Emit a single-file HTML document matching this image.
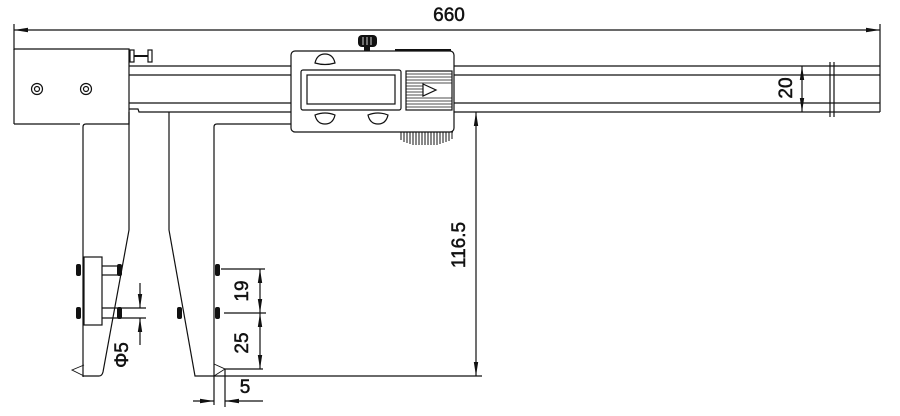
<!DOCTYPE html>
<html><head><meta charset="utf-8"><style>
html,body{margin:0;padding:0;background:#fff}
svg{display:block}
text{font-family:"Liberation Sans",Arial,sans-serif;fill:#111;stroke:#111;stroke-width:0.5}
</style></head><body>
<svg width="900" height="416" viewBox="0 0 900 416" xmlns="http://www.w3.org/2000/svg">
<defs>
<marker id="a" viewBox="0 0 14 6" refX="14" refY="3" markerWidth="14" markerHeight="6" orient="auto" markerUnits="userSpaceOnUse"><path d="M0,0.8 L14,3 L0,5.2 Z" fill="#111"/></marker>
</defs>
<g stroke="#111" stroke-width="1.2" fill="none">
<line x1="14" y1="24" x2="14" y2="50"/>
<line x1="880" y1="24" x2="880" y2="112"/>
<line x1="40" y1="30" x2="14" y2="30" marker-end="url(#a)"/>
<line x1="40" y1="30" x2="880" y2="30" marker-end="url(#a)"/>
<path d="M14,49 H129 V124 H86 Q83,124 83,127 V377"/>
<line x1="14" y1="49" x2="14" y2="124"/>
<line x1="14" y1="124" x2="80" y2="124"/>
<circle cx="37" cy="89" r="5.5"/><circle cx="37" cy="89" r="2.5"/>
<circle cx="86" cy="89" r="5.5"/><circle cx="86" cy="89" r="2.5"/>
<rect x="130" y="50" width="4" height="12"/><rect x="148" y="50" width="4" height="12"/>
<line x1="134" y1="56" x2="148" y2="56" stroke-width="2"/>
<line x1="129" y1="66" x2="880" y2="66"/>
<line x1="129" y1="75" x2="880" y2="75"/>
<line x1="129" y1="103" x2="880" y2="103"/>
<path d="M129,109 H138 L139,112 H880"/>
<line x1="830" y1="62" x2="830" y2="117"/><line x1="834" y1="62" x2="834" y2="117"/>
<path d="M129,112 V230 L103,372 Q102,376 99,376 H83"/>
<path d="M84,365 L72,370 L84,376" stroke-width="0.9"/>
<rect x="84" y="257" width="18" height="68"/>
<line x1="102" y1="266" x2="118" y2="266"/><line x1="102" y1="275" x2="118" y2="275"/>
<line x1="102" y1="308" x2="146" y2="308"/><line x1="102" y1="318" x2="146" y2="318"/>
<line x1="140" y1="283" x2="140" y2="308" marker-end="url(#a)"/>
<line x1="140" y1="345" x2="140" y2="318" marker-end="url(#a)"/>
<path d="M169,112 V230 L195,376 H482"/>
<path d="M214,405 V127 Q214,124 217,124 H292"/>
<path d="M214,364 L225,369 L214,376" stroke-width="0.9"/>
<line x1="225" y1="369" x2="225" y2="407"/>
<line x1="225" y1="369" x2="263" y2="369"/>
<line x1="221" y1="269" x2="265" y2="269"/>
<line x1="224" y1="313" x2="266" y2="313"/>
<line x1="260" y1="291" x2="260" y2="269" marker-end="url(#a)"/>
<line x1="260" y1="291" x2="260" y2="313" marker-end="url(#a)"/>
<line x1="260" y1="340" x2="260" y2="313" marker-end="url(#a)"/>
<line x1="260" y1="340" x2="260" y2="369" marker-end="url(#a)"/>
<line x1="193" y1="401" x2="214" y2="401" marker-end="url(#a)"/>
<line x1="263" y1="401" x2="225" y2="401" marker-end="url(#a)"/>
<line x1="476" y1="200" x2="476" y2="112" marker-end="url(#a)"/>
<line x1="476" y1="200" x2="476" y2="376" marker-end="url(#a)"/>
<line x1="802" y1="88" x2="802" y2="66" marker-end="url(#a)"/>
<line x1="802" y1="88" x2="802" y2="112" marker-end="url(#a)"/>
<rect x="291" y="51" width="163" height="81" rx="4" fill="#fff"/>
<rect x="301" y="70" width="100" height="40" rx="2"/>
<rect x="307" y="75" width="88" height="29"/>
<rect x="406" y="71" width="46" height="39"/>
<path d="M315,63 Q317,54 325,54 Q333,54 335,63 Q325,66 315,63 Z"/>
<path d="M315,115 Q325,111 335,115 Q333,124 325,124 Q317,124 315,115 Z"/>
<path d="M368,115 Q378,111 388,115 Q386,124 378,124 Q370,124 368,115 Z"/>
<path d="M423,84 L436,90 L423,96 Z" fill="#fff"/>
</g>
<g stroke="#111" stroke-width="0.8">
<line x1="406" y1="74" x2="452" y2="74"/><line x1="406" y1="77" x2="452" y2="77"/>
<line x1="406" y1="80" x2="452" y2="80"/><line x1="406" y1="83" x2="452" y2="83"/>
<line x1="406" y1="86" x2="423" y2="86"/><line x1="406" y1="89" x2="423" y2="89"/>
<line x1="406" y1="92" x2="423" y2="92"/><line x1="406" y1="95" x2="423" y2="95"/>
<line x1="406" y1="98" x2="452" y2="98"/><line x1="406" y1="101" x2="452" y2="101"/>
<line x1="406" y1="104" x2="452" y2="104"/><line x1="406" y1="107" x2="452" y2="107"/>
</g>
<g fill="#111">
<rect x="358" y="35" width="19" height="12" rx="4"/>
<rect x="364" y="46" width="6" height="5"/>
<rect x="395" y="49" width="56" height="2"/>
<rect x="76" y="264" width="5" height="12" rx="2"/><rect x="117" y="264" width="5" height="12" rx="2"/>
<rect x="76" y="307" width="5" height="12" rx="2"/><rect x="117" y="307" width="5" height="12" rx="2"/>
<rect x="215" y="264" width="5" height="12" rx="2"/><rect x="215" y="307" width="5" height="12" rx="2"/>
<rect x="177" y="307" width="5" height="12" rx="2"/>
</g>
<g stroke="#111" stroke-width="1">
<path d="M398,132 H453" />
<line x1="401" y1="132" x2="401" y2="140"/><line x1="404" y1="132" x2="404" y2="142"/>
<line x1="407" y1="132" x2="407" y2="143"/><line x1="410" y1="132" x2="410" y2="144"/>
<line x1="413" y1="132" x2="413" y2="145"/><line x1="416" y1="132" x2="416" y2="145"/>
<line x1="419" y1="132" x2="419" y2="145"/><line x1="422" y1="132" x2="422" y2="145"/>
<line x1="425" y1="132" x2="425" y2="145"/><line x1="428" y1="132" x2="428" y2="145"/>
<line x1="431" y1="132" x2="431" y2="145"/><line x1="434" y1="132" x2="434" y2="145"/>
<line x1="437" y1="132" x2="437" y2="145"/><line x1="440" y1="132" x2="440" y2="144"/>
<line x1="443" y1="132" x2="443" y2="143"/><line x1="446" y1="132" x2="446" y2="142"/>
<line x1="449" y1="132" x2="449" y2="141"/><line x1="452" y1="132" x2="452" y2="139"/>
</g>
<g stroke="#fff" stroke-width="0.8">
<line x1="363" y1="37" x2="363" y2="45"/><line x1="367" y1="37" x2="367" y2="45"/><line x1="371" y1="37" x2="371" y2="45"/>
</g>
<text x="449" y="21" font-size="19" text-anchor="middle">660</text>
<text transform="translate(248,291) rotate(-90)" font-size="19" text-anchor="middle">19</text>
<text transform="translate(248,343) rotate(-90)" font-size="19" text-anchor="middle">25</text>
<text x="245" y="393" font-size="19" text-anchor="middle">5</text>
<text transform="translate(128,355) rotate(-90)" font-size="19" text-anchor="middle">Φ5</text>
<text transform="translate(465,245) rotate(-90)" font-size="19" text-anchor="middle">116.5</text>
<text transform="translate(792,88) rotate(-90)" font-size="19" text-anchor="middle">20</text>
</svg>
</body></html>
